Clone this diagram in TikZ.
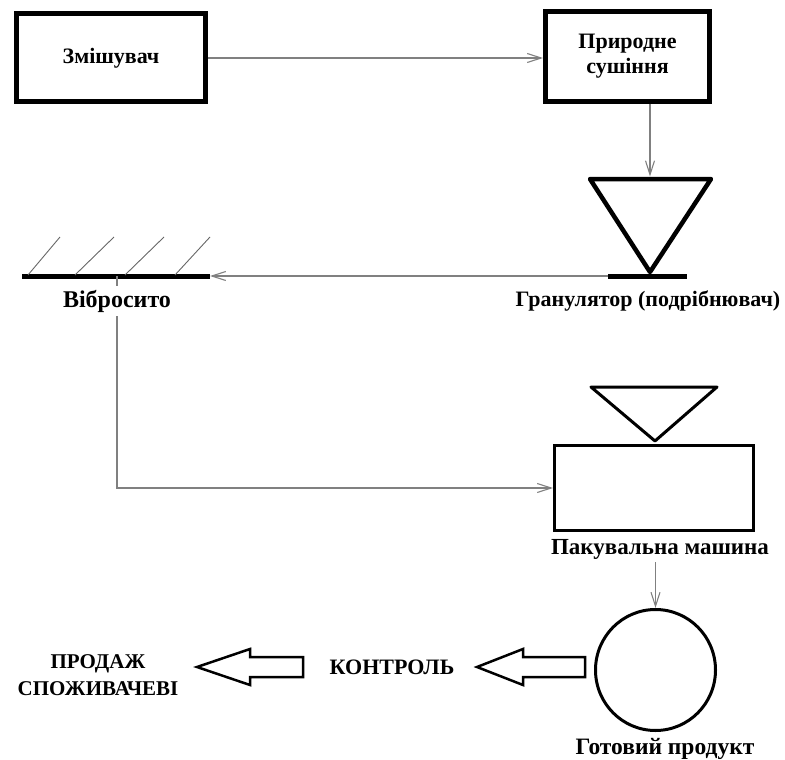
\documentclass[tikz,border=0pt]{standalone}
\usepackage{fontspec}
\setmainfont{Liberation Serif}
\usetikzlibrary{arrows.meta,shapes.geometric}
\newcommand{\fs}[1]{\bfseries\fontsize{#1}{#1}\selectfont}
\begin{document}
\begin{tikzpicture}[x=1pt,y=-1pt,
  conn/.style={draw=black!50, line width=1.3pt, -{Straight Barb[length=14pt,width=9pt,line width=1.1pt]}},
  lbl/.style={align=center, inner sep=1pt},
  heavybox/.style={draw, line width=5pt, inner sep=0pt, align=center},
  thinbox/.style={draw, line width=3pt, inner sep=0pt},
  heavyline/.style={line width=5pt},
  hatch/.style={draw=black!60, line width=0.9pt},
  blockarrow/.style={draw, line width=2.5pt, line join=miter},
  tri4/.style={draw, line width=4.5pt, line join=round},
  tri3/.style={draw, line width=3pt, line join=round}
]
\useasboundingbox (0,0) rectangle (785,760);

% top boxes
\node[heavybox, minimum width=189, minimum height=88, font=\fs{22}] (mix) at (111,58) {Змішувач};
\node[heavybox, minimum width=164, minimum height=90, font=\fs{22}] (dry) at (627.5,56.5) {Природне\\[3pt]сушіння};
\draw[conn] (mix.east) -- (mix.east -| dry.west);

% granulator
\coordinate (gtl) at (590,179);
\coordinate (gtr) at (711,179);
\coordinate (gap) at (650,272);
\coordinate (gtop) at (650,176.5);
\draw[tri4] (gtl) -- (gtr) -- (gap) -- cycle;
\coordinate (gbl) at (608,276);
\coordinate (gbr) at (687,276);
\draw[heavyline] (gbl) -- (gbr);
\node[lbl, font=\fs{22}] (glbl) at (648,301) {Гранулятор (подрібнювач)};
\draw[conn] (dry.south -| gtop) -- (gtop);

% sieve
\coordinate (sl) at (22,276);
\coordinate (sr) at (210,276);
\draw[heavyline] (sl) -- (sr);
\draw[hatch] (28,275) -- (60,237);
\draw[hatch] (75,275) -- (114,237);
\draw[hatch] (125,275) -- (164,237);
\draw[hatch] (175,275) -- (210,237);
\draw[conn] (gbl) -- (sr);
\coordinate (sdown) at (117,276);

% packaging
\coordinate (ptl) at (591,387);
\coordinate (ptr) at (717,387);
\coordinate (pap) at (655,441);
\draw[tri3] (ptl) -- (ptr) -- (pap) -- cycle;
\node[thinbox, minimum width=199, minimum height=85] (pack) at (654,488) {};
\draw[conn] (sdown) |- (pack.west);
\node[lbl, fill=white, inner sep=4pt, font=\fs{24}] (vlbl) at (117,301) {Вібросито};
\node[lbl, font=\fs{23}] (plbl) at (660,549) {Пакувальна машина};

% product
\node[draw, ellipse, line width=3pt, minimum width=120, minimum height=121, inner sep=0pt] (prod) at (655.5,670) {};
\draw[conn] (plbl.south -| prod.north) ++(0,2) -- (prod.north);
\node[lbl, font=\fs{23.5}] (rlbl) at (665,749) {Готовий продукт};

% block arrows
\draw[blockarrow] (585,657) -- (523,657) -- (523,649) -- (477,667) -- (523,685) -- (523,677) -- (585,677) -- cycle;
\node[lbl, font=\fs{22}] (ctl) at (392,667) {КОНТРОЛЬ};
\draw[blockarrow] (303,657) -- (250,657) -- (250,649) -- (197,667) -- (250,685) -- (250,677) -- (303,677) -- cycle;
\node[lbl, font=\fs{21}] (sale) at (98,675) {ПРОДАЖ\\[6pt]СПОЖИВАЧЕВІ};
\end{tikzpicture}
\end{document}
